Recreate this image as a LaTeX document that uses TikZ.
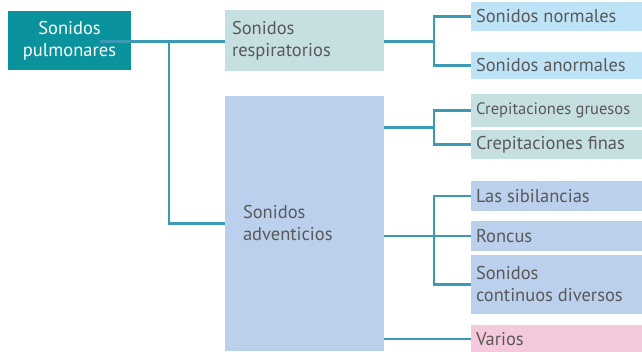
\documentclass[tikz,border=0pt]{standalone}
\usepackage{fontspec}
\setmainfont{PT Sans}
\definecolor{pulfill}{HTML}{0A939D}
\definecolor{respfill}{HTML}{C6DFE1}
\definecolor{advfill}{HTML}{BBD0EC}
\definecolor{normfill}{HTML}{BEE3F7}
\definecolor{varfill}{HTML}{F5C9DC}
\definecolor{linkblue}{HTML}{3B9BB4}
\definecolor{txtgray}{HTML}{595959}
\begin{document}
\begin{tikzpicture}[x=1pt, y=-1pt,
        box/.style={inner ysep=0pt, text=txtgray, align=flush left,
            font=\fontsize{18.5}{22}\selectfont},
        leaf/.style={box, minimum width=171pt, inner xsep=5pt, text width=161pt},
        link/.style={draw=linkblue, line width=2.2pt}]
    \useasboundingbox (0,0) rectangle (642,351);

    \node[box, fill=pulfill, text=white, align=center, inner xsep=0pt,
          text width=123pt, minimum height=59pt] (pul) at (69.5, 40.5) {Sonidos\\pulmonares};
    \node[box, fill=respfill, inner xsep=7pt, text width=145pt,
          minimum height=61pt] (resp) at (304.5, 40.5) {Sonidos\\respiratorios};
    \node[box, fill=advfill, inner xsep=18pt, text width=123pt,
          minimum height=255pt] (adv) at (304.5, 223.5) {Sonidos\\adventicios};

    \node[leaf, fill=normfill, minimum height=29pt] (norm) at (556.5, 16.5) {Sonidos normales};
    \node[leaf, fill=normfill, minimum height=27pt] (anorm) at (556.5, 65.5) {Sonidos anormales};
    \node[leaf, fill=respfill, minimum height=33pt,
          font=\fontsize{16.5}{19}\selectfont] (grue) at (556.5, 110.5) {Crepitaciones gruesos};
    \node[leaf, fill=respfill, minimum height=29pt] (fin) at (556.5, 144.5) {Crepitaciones finas};
    \node[leaf, fill=advfill, minimum height=30pt] (sib) at (556.5, 196) {Las sibilancias};
    \node[leaf, fill=advfill, minimum height=30pt] (ron) at (556.5, 236) {Roncus};
    \node[leaf, fill=advfill, minimum height=59pt] (cont) at (556.5, 284.5) {Sonidos\\continuos diversos};
    \node[leaf, fill=varfill, minimum height=28pt] (var) at (556.5, 339) {Varios};

    \coordinate (s0) at (100, 41.5);
    \coordinate (j0) at (169, 41.5);
    \draw[link] (s0) to (resp.west |- s0);
    \draw[link] (j0) |- (adv.west);

    \coordinate (j1) at (434, 41.5);
    \draw[link] (resp.east |- j1) to (j1);
    \draw[link] (norm.west) -| (j1) |- (anorm.west);

    \coordinate (j2) at (434, 127.5);
    \draw[link] (adv.east |- j2) to (j2);
    \draw[link] (grue.west) -| (j2) |- (fin.west);

    \coordinate (j3) at (434, 236);
    \draw[link] (adv.east |- j3) to (ron.west);
    \draw[link] (sib.west) -| (j3) |- (cont.west);

    \draw[link] (adv.east |- var.west) to (var.west);
\end{tikzpicture}
\end{document}
